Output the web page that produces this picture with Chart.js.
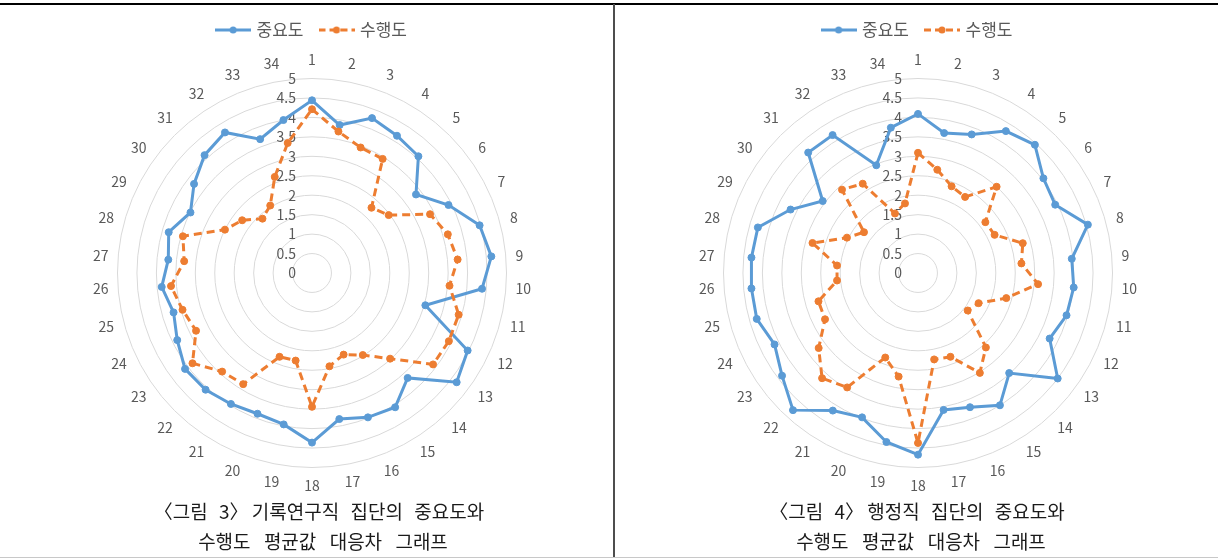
<!DOCTYPE html>
<html lang="ko">
<head>
<meta charset="utf-8">
<script src="https://cdn.jsdelivr.net/npm/chart.js@4.4.0/dist/chart.umd.min.js"></script>
<style>
  html, body { margin: 0; padding: 0; background: #fff; }
  body { width: 1218px; height: 558px; position: relative; overflow: hidden; font-family: "Noto Sans CJK KR", sans-serif; }
  .topline { position: absolute; left: 0; top: 3px; width: 1218px; height: 2px; background: #000; }
  .vline { position: absolute; left: 613px; top: 4px; width: 2px; height: 554px; background: #4d4d4d; }
  .bline { position: absolute; left: 0; top: 557px; width: 1218px; height: 1px; background: #c8c8c8; }
  .box { position: absolute; top: 0; height: 500px; }
  .cap { position: absolute; top: 496px; width: 500px; text-align: center; font-size: 19px; line-height: 30px; color: #1a1a1a; white-space: nowrap; }
  .cap div { white-space: nowrap; }
  .l1 { word-spacing: 6px; }
  .l2 { word-spacing: 8px; }
  .lb { display: inline-block; width: 11px; overflow: hidden; text-indent: -8px; vertical-align: bottom; }
  .rb { display: inline-block; width: 11px; overflow: hidden; vertical-align: bottom; }
</style>
</head>
<body>
<div class="topline"></div>
<div class="vline"></div>
<div class="bline"></div>
<div class="box" style="left:0;width:613px;"><canvas id="c1"></canvas></div>
<div class="box" style="left:615px;width:603px;"><canvas id="c2"></canvas></div>
<div class="cap" id="cap1" style="left:73px;"></div>
<div class="cap" id="cap2" style="left:671px;"></div>
<script>
// ---- data ----
const CATEGORIES = ['1','2','3','4','5','6','7','8','9','10','11','12','13','14','15','16','17','18','19','20','21','22','23','24','25','26','27','28','29','30','31','32','33','34'];
const SERIES_NAMES = ['중요도', '수행도'];
const TICK_VALUES = [0, 0.5, 1, 1.5, 2, 2.5, 3, 3.5, 4, 4.5, 5];
const TICK_LABELS = ['0', '0.5', '1', '1.5', '2', '2.5', '3', '3.5', '4', '4.5', '5'];

// 그림 3: 기록연구직
const ARCH_IMPORTANCE = [4.44, 3.87, 4.27, 4.15, 4.06, 3.35, 3.92, 4.48, 4.63, 4.39, 3.03, 4.47, 4.66, 3.65, 4.06, 3.98, 3.82, 4.36, 3.96, 3.88, 3.96, 4.06, 4.09, 3.87, 3.70, 3.88, 3.71, 3.83, 3.49, 3.80, 4.10, 4.25, 3.69, 4.00];
const ARCH_PERFORMANCE = [4.21, 3.70, 3.46, 3.45, 2.27, 2.47, 3.39, 3.63, 3.76, 3.55, 3.92, 3.93, 3.90, 2.98, 2.48, 2.25, 2.44, 3.44, 2.29, 2.31, 3.36, 3.43, 3.85, 3.33, 3.46, 3.64, 3.30, 3.45, 2.50, 2.25, 1.89, 2.04, 2.65, 3.40];

// 그림 4: 행정직
const ADMIN_IMPORTANCE = [4.09, 3.66, 3.82, 4.29, 4.46, 4.04, 3.94, 4.54, 3.97, 4.02, 3.97, 3.78, 4.50, 3.48, 4.00, 3.70, 3.58, 4.67, 4.42, 3.98, 4.16, 4.77, 4.38, 4.12, 4.31, 4.30, 4.30, 4.28, 3.66, 3.07, 4.19, 4.17, 2.97, 3.80];
const ADMIN_PERFORMANCE = [3.09, 2.70, 2.39, 2.30, 3.00, 2.17, 2.20, 2.80, 2.67, 3.10, 2.36, 1.74, 1.60, 2.59, 3.02, 2.31, 2.26, 4.37, 2.71, 2.33, 3.46, 3.66, 3.20, 2.67, 2.66, 2.09, 2.09, 2.82, 2.04, 1.74, 2.90, 2.70, 1.64, 1.82];

const CAPTION_1 = ['<span class="lb">〈</span>그림 3<span class="rb">〉</span> 기록연구직 집단의 중요도와', '수행도 평균값 대응차 그래프'];
const CAPTION_2 = ['<span class="lb">〈</span>그림 4<span class="rb">〉</span> 행정직 집단의 중요도와', '수행도 평균값 대응차 그래프'];

// ---- styles ----
const BLUE = '#5B9BD5';
const ORANGE = '#ED7D31';
const GRAY_TEXT = '#595959';
const FONT = '"Noto Sans CJK KR", "Noto Sans", sans-serif';

function setCaption(id, lines) {
  document.getElementById(id).innerHTML =
    '<div class="l1">' + lines[0] + '</div><div class="l2">' + lines[1] + '</div>';
}
setCaption('cap1', CAPTION_1);
setCaption('cap2', CAPTION_2);

function makeIcon(color, dashed) {
  const c = document.createElement('canvas');
  c.width = 36; c.height = 10;
  const g = c.getContext('2d');
  g.strokeStyle = color; g.lineWidth = 3;
  if (dashed) g.setLineDash([7, 4]);
  g.beginPath(); g.moveTo(0, 5); g.lineTo(36, 5); g.stroke();
  g.setLineDash([]);
  g.fillStyle = color;
  g.beginPath(); g.arc(18, 5, 3.5, 0, Math.PI * 2); g.fill();
  return c;
}
const ICONS = [makeIcon(BLUE, false), makeIcon(ORANGE, true)];

// radial value labels, right-aligned just left of the centre
const tickPlugin = {
  id: 'leftTicks',
  beforeDatasetsDraw(chart) {
    const s = chart.scales.r;
    const ctx = chart.ctx;
    ctx.save();
    ctx.font = '14px ' + FONT;
    ctx.fillStyle = GRAY_TEXT;
    ctx.textAlign = 'right';
    ctx.textBaseline = 'middle';
    TICK_VALUES.forEach((v, i) => {
      const d = s.getDistanceFromCenterForValue(v);
      ctx.fillText(TICK_LABELS[i], s.xCenter - 16, s.yCenter - d);
    });
    ctx.restore();
  }
};

// category labels placed around the outer ring, Excel style
const labelPlugin = {
  id: 'outerLabels',
  beforeDatasetsDraw(chart) {
    const s = chart.scales.r;
    const ctx = chart.ctx;
    const R = s.drawingArea;
    ctx.save();
    ctx.font = '14px ' + FONT;
    ctx.fillStyle = GRAY_TEXT;
    ctx.textAlign = 'center';
    ctx.textBaseline = 'middle';
    CATEGORIES.forEach((lab, i) => {
      const th = s.getIndexAngle(i);
      const sn = Math.sin(th), cs = Math.cos(th);
      const w = ctx.measureText(lab).width;
      const p = s.getPointPosition(i, R + 9 + 9.5 * Math.abs(cs));
      const x = p.x + (w / 2) * sn;
      let y = p.y;
      if (cs < 0) y -= 3 * sn * sn;
      else y += 1.5 * sn * sn;
      ctx.fillText(lab, x, y);
    });
    ctx.restore();
  }
};

function makeChart(id, imp, perf, padLeft) {
  return new Chart(document.getElementById(id), {
    type: 'radar',
    data: {
      labels: CATEGORIES,
      datasets: [
        { label: SERIES_NAMES[0], data: imp, borderColor: BLUE, backgroundColor: BLUE, borderWidth: 3,
          pointRadius: 3.5, pointBackgroundColor: BLUE, pointBorderColor: BLUE, pointBorderWidth: 1,
          fill: false, tension: 0, order: 1 },
        { label: SERIES_NAMES[1], data: perf, borderColor: ORANGE, backgroundColor: ORANGE, borderWidth: 3,
          borderDash: [8, 5], pointRadius: 3.5, pointBackgroundColor: ORANGE, pointBorderColor: ORANGE, pointBorderWidth: 1,
          fill: false, tension: 0, order: 0 }
      ]
    },
    options: {
      responsive: true,
      maintainAspectRatio: false,
      animation: false,
      layout: { padding: { top: 3.5, left: padLeft, right: 0, bottom: 1.5 } },
      plugins: {
        legend: {
          display: true,
          position: 'top',
          labels: {
            usePointStyle: true,
            pointStyleWidth: 30,
            padding: 18,
            color: GRAY_TEXT,
            font: { size: 17, family: FONT },
            sort: (a, b) => a.datasetIndex - b.datasetIndex,
            generateLabels(chart) {
              const items = Chart.defaults.plugins.legend.labels.generateLabels(chart);
              items.forEach(it => { it.pointStyle = ICONS[it.datasetIndex]; });
              return items;
            }
          }
        },
        tooltip: { enabled: false }
      },
      scales: {
        r: {
          min: 0,
          max: 5,
          startAngle: 0,
          ticks: { stepSize: 0.5, display: false },
          grid: { circular: true, color: '#d9d9d9', lineWidth: 1 },
          angleLines: { display: false },
          pointLabels: {
            color: 'rgba(0,0,0,0)',
            padding: 8,
            font: { size: 14, family: FONT, lineHeight: 22 / 14 }
          }
        }
      }
    },
    plugins: [tickPlugin, labelPlugin]
  });
}

makeChart('c1', ARCH_IMPORTANCE, ARCH_PERFORMANCE, 12);
makeChart('c2', ADMIN_IMPORTANCE, ADMIN_PERFORMANCE, 3);
</script>
</body>
</html>
